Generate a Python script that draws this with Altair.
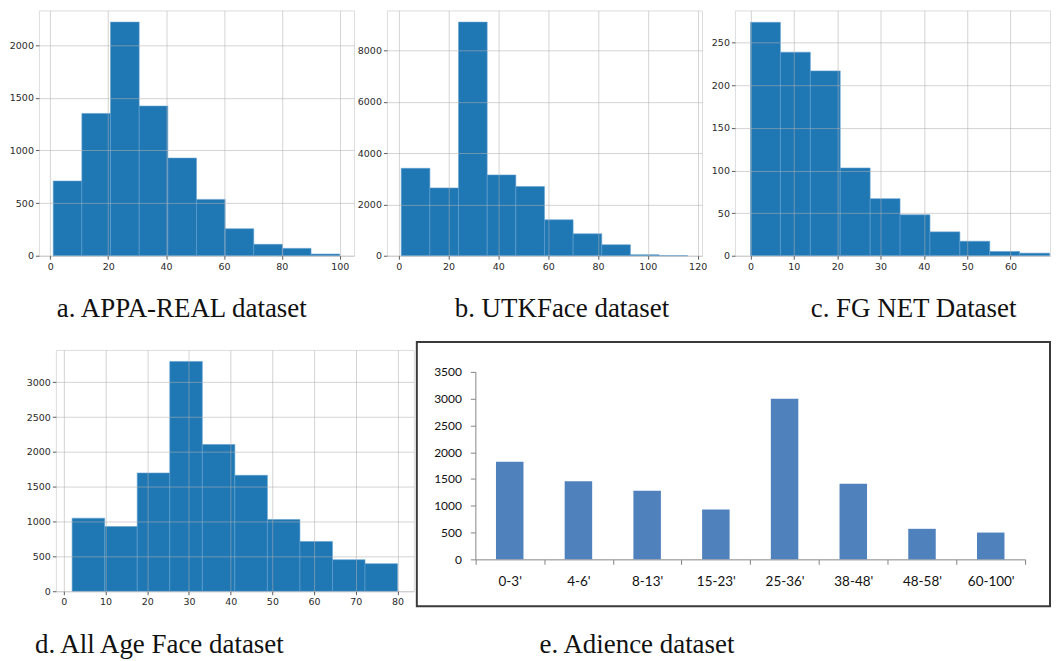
import altair as alt
import pandas as pd

# ---------------- data ----------------
appa_edges = [1.0, 10.9, 20.8, 30.7, 40.6, 50.5, 60.4, 70.3, 80.2, 90.1, 100.0]
appa_counts = [709, 1351, 2218, 1421, 927, 535, 256, 108, 70, 16]

utk_edges = [1.0, 12.5, 24.0, 35.5, 47.0, 58.5, 70.0, 81.5, 93.0, 104.5, 116.0]
utk_counts = [3405, 2641, 9100, 3146, 2693, 1398, 854, 427, 39, 3]

fgnet_edges = [0.0, 6.9, 13.8, 20.7, 27.6, 34.5, 41.4, 48.3, 55.2, 62.1, 69.0]
fgnet_counts = [274, 239, 217, 103, 67, 48, 28, 17, 5, 3]

allage_edges = [2.0, 9.8, 17.6, 25.4, 33.2, 41.0, 48.8, 56.6, 64.4, 72.2, 80.0]
allage_counts = [1049, 930, 1698, 3300, 2108, 1665, 1030, 715, 453, 396]

adience_groups = ["0-3'", "4-6'", "8-13'", "15-23'", "25-36'", "38-48'", "48-58'", "60-100'"]
adience_counts = [1820, 1460, 1280, 930, 3000, 1410, 570, 500]

captions = ["a. APPA-REAL dataset", "b. UTKFace dataset", "c. FG NET Dataset",
            "d. All Age Face dataset", "e. Adience dataset"]

appa_xticks = [0, 20, 40, 60, 80, 100]
appa_yticks = [0, 500, 1000, 1500, 2000]
utk_xticks = [0, 20, 40, 60, 80, 100, 120]
utk_yticks = [0, 2000, 4000, 6000, 8000]
fgnet_xticks = [0, 10, 20, 30, 40, 50, 60]
fgnet_yticks = [0, 50, 100, 150, 200, 250]
allage_xticks = [0, 10, 20, 30, 40, 50, 60, 70, 80]
allage_yticks = [0, 500, 1000, 1500, 2000, 2500, 3000]
adience_yticks = [0, 500, 1000, 1500, 2000, 2500, 3000, 3500]

MPL_BLUE = "#1f77b4"
XL_BLUE = "#4f81bd"


def mpl_axis(values):
    return alt.Axis(values=values, grid=True, gridColor="#b0b0b0", gridOpacity=0.55,
                    gridWidth=1, domain=False, ticks=True, tickSize=3.5, tickColor="#333333",
                    tickWidth=0.8, labelFont="DejaVu Sans", labelFontSize=9.5,
                    labelColor="#2a2a2a", labelPadding=2, title=None, zindex=1, format="d")


def caption_layer(text, dx, dy):
    return alt.Chart(pd.DataFrame({"t": [text]})).mark_text(
        font="Liberation Serif", fontSize=27, align="left", baseline="alphabetic",
        color="#111111").encode(text="t:N", x=alt.value(dx), y=alt.value(dy))


def hist_panel(edges, counts, xdom, ydom, xticks, yticks, caption, cdx, cdy, width, height):
    df = pd.DataFrame({"start": edges[:-1], "end": edges[1:], "count": counts})
    bars = alt.Chart(df).mark_bar(color=MPL_BLUE, stroke="#5f9fd0", strokeWidth=0.6).encode(
        x=alt.X("start:Q", scale=alt.Scale(domain=xdom, nice=False, zero=False),
                axis=mpl_axis(xticks)),
        x2="end:Q",
        y=alt.Y("count:Q", scale=alt.Scale(domain=ydom, nice=False), axis=mpl_axis(yticks)),
        y2=alt.datum(0),
    )
    return alt.layer(bars, caption_layer(caption, cdx, cdy)).properties(width=width, height=height)


pa = hist_panel(appa_edges, appa_counts, [-3.95, 104.95], [0, 2329], appa_xticks, appa_yticks,
                captions[0], 18, 307, 316, 246)
pb = hist_panel(utk_edges, utk_counts, [-4.75, 121.75], [0, 9555], utk_xticks, utk_yticks,
                captions[1], 68, 307, 316, 246)
pc = hist_panel(fgnet_edges, fgnet_counts, [-3.6, 69.1], [0, 288], fgnet_xticks, fgnet_yticks,
                captions[2], 76, 307, 316, 246)
pd_ = hist_panel(allage_edges, allage_counts, [-1.9, 83.9], [0, 3465], allage_xticks, allage_yticks,
                 captions[3], -21, 303.5, 359, 242)

# ---------------- Adience (Excel style) ----------------
dfe = pd.DataFrame({"group": adience_groups, "count": adience_counts})
e_bars = alt.Chart(dfe).mark_bar(color=XL_BLUE, width=alt.RelativeBandSize(0.4)).encode(
    x=alt.X("group:N", sort=adience_groups,
            scale=alt.Scale(range=[58.7, 610], paddingInner=0, paddingOuter=0),
            axis=alt.Axis(title=None, labelAngle=0, tickBand="extent", tickSize=5,
                          tickColor="#868686", domainColor="#868686", labelFont="Lato",
                          labelFontSize=13.5, labelColor="#111111", labelPadding=10,
                          offset=-47, grid=False)),
    y=alt.Y("count:Q", scale=alt.Scale(domain=[0, 3500], range=[210, 22], nice=False),
            axis=alt.Axis(values=adience_yticks, title=None, tickSize=5, tickColor="#868686",
                          domainColor="#868686", labelFont="Lato", labelFontSize=12,
                          labelColor="#111111", labelPadding=9, offset=-58.7, grid=False,
                          format="d")),
)
e_border = alt.Chart(pd.DataFrame({"b": [0]})).mark_rect(
    fillOpacity=0, stroke="#3a3a3a", strokeWidth=2).encode(
    x=alt.value(0), x2=alt.value(635), y=alt.value(-8), y2=alt.value(257))
pe = alt.layer(e_border, e_bars, caption_layer(captions[4], 123, 303.5)).properties(
    width=635, height=257, view=alt.ViewBackground(stroke="transparent"))

spacer = alt.Chart(pd.DataFrame({"s": [0]})).mark_point(opacity=0).encode(
    x=alt.value(0), y=alt.value(0)).properties(
    width=14, height=10, view=alt.ViewBackground(stroke="transparent"))

row1 = alt.hconcat(pa, pb, pc, spacing=33, bounds="flush")
row2 = alt.hconcat(spacer, pd_, pe, spacing=3, bounds="flush")

chart = alt.vconcat(row1, row2, spacing=340.5, bounds="flush").properties(
    padding={"left": 0, "top": 0.5, "right": 0, "bottom": 0}
).configure_view(stroke="#333333", strokeWidth=1).configure(background="white")

chart.save("out.html", embed_options={"renderer": "svg", "actions": False})
